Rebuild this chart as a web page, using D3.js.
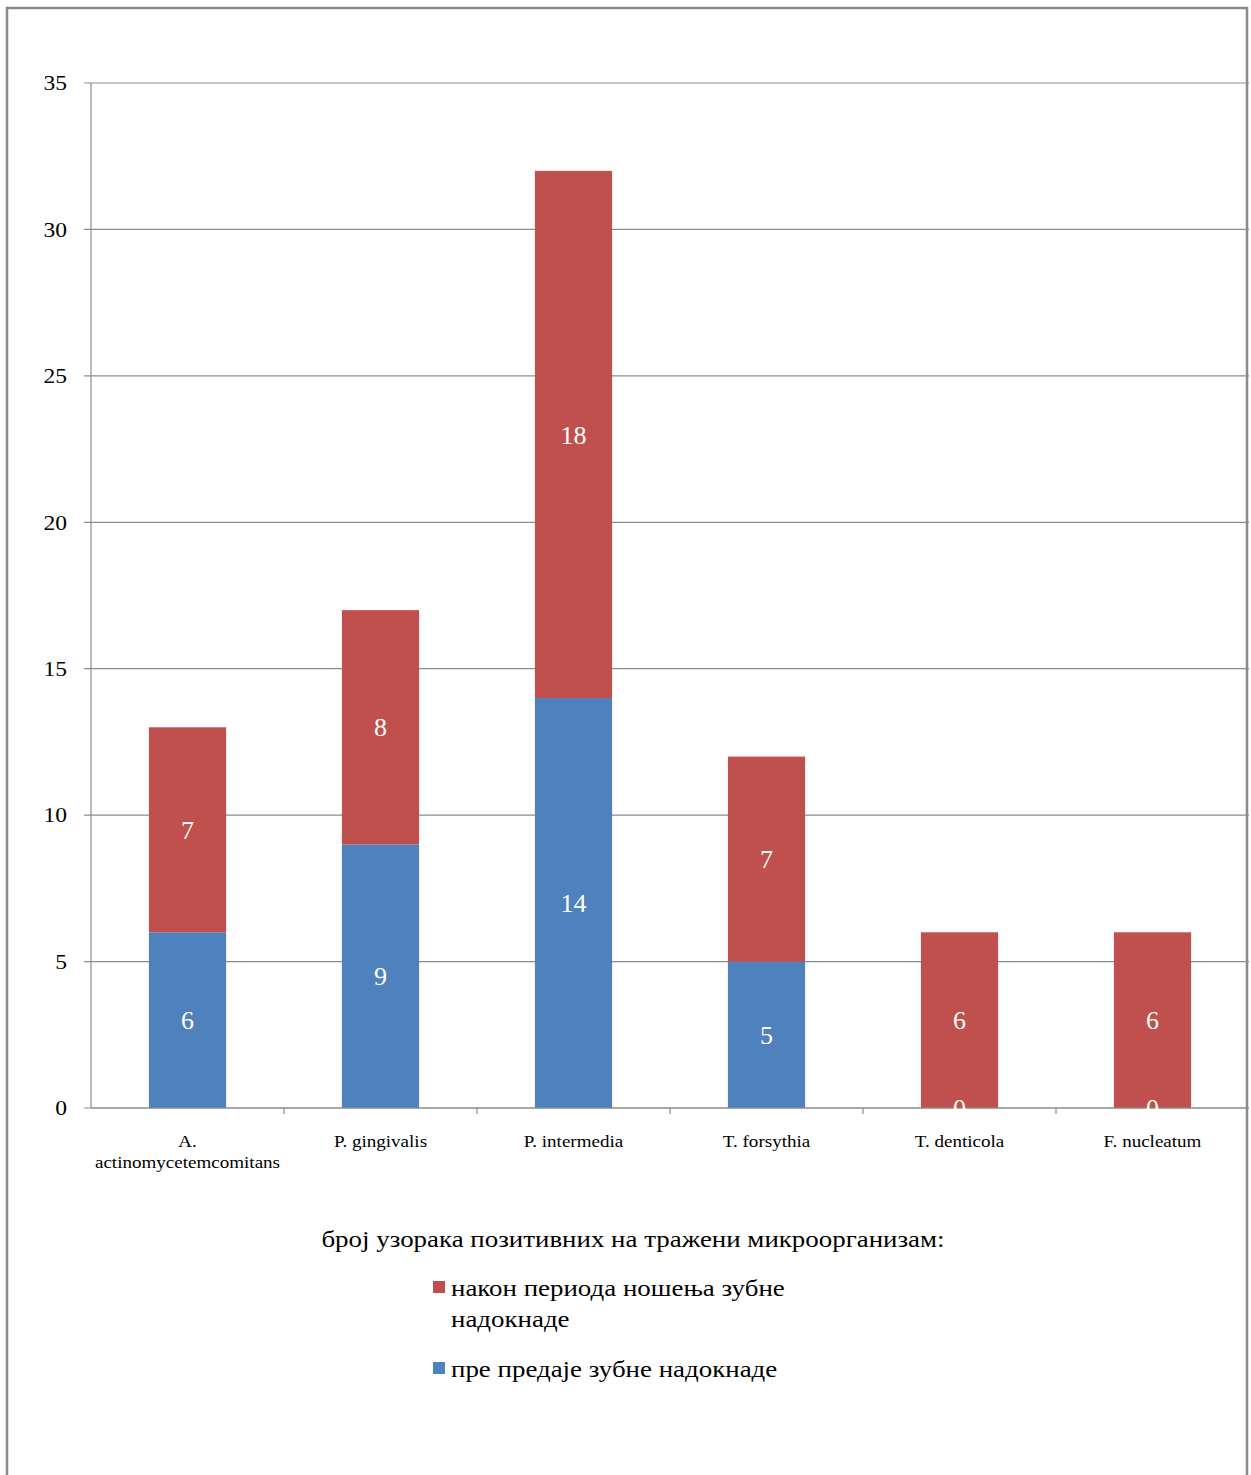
<!DOCTYPE html>
<html><head><meta charset="utf-8">
<script src="https://cdn.jsdelivr.net/npm/d3@7"></script>
<style>body{margin:0;background:#fff}svg{display:block}</style>
</head><body>
<svg id="c" width="1251" height="1475"></svg>
<script>
const categories = ["A. actinomycetemcomitans","P. gingivalis","P. intermedia","T. forsythia","T. denticola","F. nucleatum"];
const beforeValues = [6, 9, 14, 5, 0, 0];
const afterValues = [7, 8, 18, 7, 6, 6];
const yTicks = [0, 5, 10, 15, 20, 25, 30, 35];
const seriesNames = ["након периода ношења зубне надокнаде", "пре предаје зубне надокнаде"];
const legendTitle = "број узорака  позитивних на тражени микроорганизам:";

(function(){
const svg = d3.select("#c");
const serif = "'Liberation Serif'";
const colBlue = "#4F81BD", colRed = "#C0504D", gridCol = "#8c8c8c";

function stretch(sel, f) {
  sel.each(function(){
    const w = this.getComputedTextLength();
    d3.select(this).attr("textLength", w * f).attr("lengthAdjust", "spacingAndGlyphs");
  });
}

svg.append("path").attr("d","M7,1475 V8 H1247 V1475").attr("fill","none").attr("stroke","#8a8a8a").attr("stroke-width",2.5);

const pL = 91, pR = 1249, pT = 83, pB = 1108;
const x = d3.scaleBand().domain(categories).range([pL, pR]).paddingInner(0.6).paddingOuter(0.3);
const y = d3.scaleLinear().domain([0, 35]).range([pB, pT]);

svg.append("g").selectAll("line").data(yTicks).join("line")
  .attr("x1", pL - 7).attr("x2", pR).attr("y1", d => y(d)).attr("y2", d => y(d))
  .attr("stroke", gridCol).attr("stroke-width", 1.2);
svg.append("line").attr("x1", pL).attr("x2", pL).attr("y1", pT).attr("y2", pB).attr("stroke", gridCol).attr("stroke-width",1.2);
const yl = svg.append("g").selectAll("text").data(yTicks).join("text")
  .attr("x", 67).attr("y", d => y(d)).attr("dy","0.35em").attr("text-anchor","end")
  .attr("font-family", serif).attr("font-size", 21).attr("fill","#000").text(d => d);
stretch(yl, 1.12);

const bw = x.step();
const sepData = d3.range(1, categories.length);
svg.append("g").selectAll("line").data(sepData).join("line")
  .attr("x1", d => pL + d*bw).attr("x2", d => pL + d*bw)
  .attr("y1", pB).attr("y2", pB + 6).attr("stroke", gridCol).attr("stroke-width",1.2);

const data = categories.map((c,i) => ({c, b: beforeValues[i], a: afterValues[i]}));
const g = svg.append("g");
g.selectAll("rect.b").data(data).join("rect").attr("class","b")
  .attr("x", d => x(d.c)).attr("width", x.bandwidth())
  .attr("y", d => y(d.b)).attr("height", d => y(0) - y(d.b)).attr("fill", colBlue);
g.selectAll("rect.a").data(data).join("rect").attr("class","a")
  .attr("x", d => x(d.c)).attr("width", x.bandwidth())
  .attr("y", d => y(d.b + d.a)).attr("height", d => y(d.b) - y(d.b + d.a)).attr("fill", colRed);

svg.append("line").attr("x1", pL).attr("x2", pR).attr("y1", pB).attr("y2", pB).attr("stroke", gridCol).attr("stroke-width",1.2);

const lab = svg.append("g").attr("font-family", serif).attr("font-size", 26).attr("fill","#fff").attr("text-anchor","middle");
lab.selectAll("text.b").data(data).join("text").attr("class","b")
  .attr("x", d => x(d.c) + x.bandwidth()/2).attr("y", d => y(d.b/2)).attr("dy","0.35em").text(d => d.b);
lab.selectAll("text.a").data(data).join("text").attr("class","a")
  .attr("x", d => x(d.c) + x.bandwidth()/2).attr("y", d => y(d.b + d.a/2)).attr("dy","0.35em").text(d => d.a);

const cl = svg.append("g").attr("font-family", serif).attr("font-size", 17).attr("fill","#000").attr("text-anchor","middle");
data.forEach(d => {
  const cx = x(d.c) + x.bandwidth()/2;
  const parts = d.c.length > 16 ? d.c.split(" ") : [d.c];
  parts.forEach((p,i) => cl.append("text").attr("x", cx).attr("y", 1147 + i*21).text(p));
});
stretch(cl.selectAll("text"), 1.12);

const lt = svg.append("text").attr("x", 633).attr("y", 1247).attr("text-anchor","middle")
  .attr("font-family", serif).attr("font-size", 23).attr("fill","#000").text(legendTitle);
stretch(lt, 1.17);
const leg = svg.append("g").attr("font-family", serif).attr("font-size", 23).attr("fill","#000");
leg.append("rect").attr("x", 433).attr("y", 1281).attr("width", 12).attr("height", 12).attr("fill", colRed);
leg.append("text").attr("x", 451).attr("y", 1296).text("након периода ношења зубне");
leg.append("text").attr("x", 451).attr("y", 1327).text("надокнаде");
leg.append("rect").attr("x", 433).attr("y", 1362).attr("width", 12).attr("height", 12).attr("fill", colBlue);
leg.append("text").attr("x", 451).attr("y", 1377).text(seriesNames[1]);
stretch(leg.selectAll("text"), 1.17);
})();
</script>
</body></html>
